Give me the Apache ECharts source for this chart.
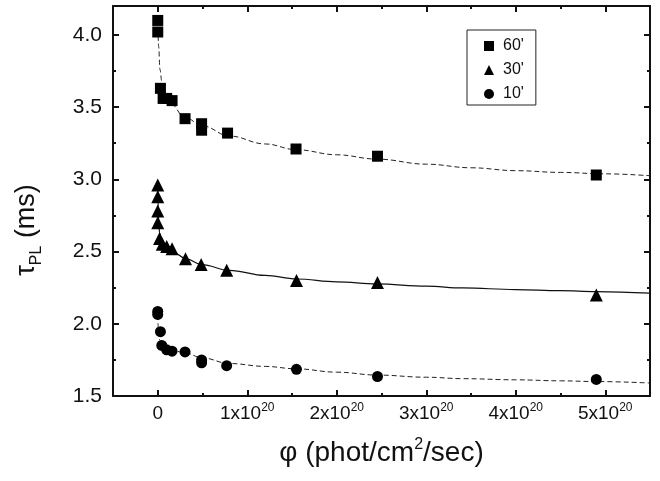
<!DOCTYPE html>
<html><head><meta charset="utf-8">
<script src="https://cdn.jsdelivr.net/npm/echarts@6/dist/echarts.min.js"></script>
<style>html,body{margin:0;padding:0;background:#fff}#c{width:660px;height:481px}</style>
</head><body><div id="c"></div>
<script>
// x values are in units of 1e20 phot/cm^2/sec
const xMajorTicks = [0, 1, 2, 3, 4, 5];
const xMinorTicks = [0.5, 1.5, 2.5, 3.5, 4.5];
const yMajorTicks = [1.5, 2.0, 2.5, 3.0, 3.5, 4.0];
const yMinorTicks = [1.75, 2.25, 2.75, 3.25, 3.75];
const seriesNames = ["60'", "30'", "10'"];

// measured points
const x60 = [0, 0, 0.03, 0.06, 0.10, 0.16, 0.305, 0.49, 0.49, 0.78, 1.545, 2.455, 4.90];
const y60 = [4.10, 4.02, 3.63, 3.56, 3.56, 3.545, 3.42, 3.385, 3.34, 3.32, 3.21, 3.16, 3.03];
const x30 = [0, 0, 0, 0, 0.02, 0.05, 0.10, 0.16, 0.31, 0.485, 0.77, 1.55, 2.455, 4.90];
const y30 = [2.96, 2.88, 2.78, 2.70, 2.59, 2.55, 2.535, 2.52, 2.45, 2.41, 2.37, 2.30, 2.285, 2.20];
const x10 = [0, 0, 0.03, 0.045, 0.10, 0.16, 0.305, 0.49, 0.49, 0.77, 1.55, 2.455, 4.90];
const y10 = [2.085, 2.065, 1.945, 1.85, 1.82, 1.81, 1.805, 1.75, 1.73, 1.71, 1.685, 1.635, 1.615];

// fitted curves
const fx60 = [0.002, 0.01, 0.025, 0.045, 0.08, 0.15, 0.3, 0.5, 0.8, 1.2, 1.55, 2.0, 2.45, 3.0, 3.5, 4.0, 4.5, 5.0, 5.5];
const fy60 = [4.05, 3.92, 3.76, 3.68, 3.60, 3.52, 3.43, 3.37, 3.30, 3.245, 3.205, 3.17, 3.14, 3.105, 3.08, 3.06, 3.048, 3.038, 3.025];
const fx30 = [0.001, 0.005, 0.012, 0.02, 0.04, 0.063, 0.1, 0.17, 0.32, 0.49, 0.8, 1.2, 1.55, 2.0, 2.45, 3.0, 3.41, 4.0, 4.5, 4.9, 5.5];
const fy30 = [2.93, 2.80, 2.70, 2.63, 2.58, 2.56, 2.53, 2.495, 2.45, 2.41, 2.37, 2.335, 2.31, 2.29, 2.276, 2.26, 2.248, 2.237, 2.229, 2.223, 2.212];
const fx10 = [0.001, 0.005, 0.01, 0.02, 0.05, 0.1, 0.2, 0.32, 0.49, 0.8, 1.2, 1.55, 2.0, 2.45, 3.0, 3.41, 4.0, 4.5, 4.9, 5.5];
const fy10 = [2.06, 1.98, 1.93, 1.89, 1.855, 1.83, 1.81, 1.795, 1.765, 1.725, 1.705, 1.688, 1.665, 1.645, 1.63, 1.62, 1.612, 1.605, 1.60, 1.59];

const zip = (a, b) => a.map((v, i) => [v, b[i]]);
const FONT = "'Liberation Sans', Arial, sans-serif";
const INK = '#111';

function xAx(pos, ticks, len, withLine, withLabel) {
  return {
    type: 'value', min: -0.5, max: 5.5, position: pos, gridIndex: 0,
    axisLine: { show: withLine, onZero: false, lineStyle: { color: INK, width: 2 } },
    axisTick: { show: true, inside: true, length: len, customValues: ticks, lineStyle: { color: INK, width: 2 } },
    splitLine: { show: false },
    axisLabel: withLabel ? {
      show: true, customValues: xMajorTicks, margin: 6,
      formatter: v => v === 0 ? '{a|0}' : '{a|' + v + 'x10}{s|20}',
      rich: {
        a: { fontSize: 19, fontFamily: FONT, color: INK, lineHeight: 24 },
        s: { fontSize: 12, fontFamily: FONT, color: INK, verticalAlign: 'top' }
      }
    } : { show: false },
    name: withLabel ? '{t|φ (phot/cm}{s|2}{t|/sec)}' : '',
    nameLocation: 'middle', nameGap: 41,
    nameTextStyle: {
      rich: {
        t: { fontSize: 28, fontFamily: FONT, color: INK, lineHeight: 32 },
        s: { fontSize: 16, fontFamily: FONT, color: INK, verticalAlign: 'top' }
      }
    }
  };
}
function yAx(pos, ticks, len, withLine, withLabel) {
  return {
    type: 'value', min: 1.5, max: 4.2, position: pos, gridIndex: 0,
    axisLine: { show: withLine, onZero: false, lineStyle: { color: INK, width: 2 } },
    axisTick: { show: true, inside: true, length: len, customValues: ticks, lineStyle: { color: INK, width: 2 } },
    splitLine: { show: false },
    axisLabel: withLabel ? {
      show: true, customValues: yMajorTicks, margin: 11,
      fontSize: 21, fontFamily: FONT, color: INK,
      formatter: v => v.toFixed(1)
    } : { show: false },
    name: withLabel ? '{t|τ}{s|PL}{t| (ms)}' : '',
    nameLocation: 'middle', nameRotate: 90, nameGap: 68,
    nameTextStyle: {
      padding: [0, 58, 0, 0],
      rich: {
        t: { fontSize: 27, fontFamily: FONT, color: INK, lineHeight: 36 },
        s: { fontSize: 16, fontFamily: FONT, color: INK, verticalAlign: 'bottom' }
      }
    }
  };
}

const chart = echarts.init(document.getElementById('c'), null, { renderer: 'canvas' });
chart.setOption({
  animation: false,
  backgroundColor: '#fff',
  grid: { left: 113, right: 10, top: 6, bottom: 85, containLabel: false },
  xAxis: [
    xAx('bottom', xMajorTicks, 6, true, true),
    xAx('bottom', xMinorTicks, 3, false, false),
    xAx('top', xMajorTicks, 6, true, false),
    xAx('top', xMinorTicks, 3, false, false)
  ],
  yAxis: [
    yAx('left', yMajorTicks, 6, true, true),
    yAx('left', yMinorTicks, 3, false, false),
    yAx('right', yMajorTicks, 6, true, false),
    yAx('right', yMinorTicks, 3, false, false)
  ],
  legend: {
    orient: 'vertical', left: 467, top: 30,
    padding: [8, 12, 3, 17], itemGap: 8, itemWidth: 10, itemHeight: 10,
    borderColor: '#222', borderWidth: 1,
    textStyle: { fontSize: 16, fontFamily: FONT, color: INK, padding: [0, 0, 0, 4] },
    data: [
      { name: seriesNames[0], icon: 'rect' },
      { name: seriesNames[1], icon: 'triangle' },
      { name: seriesNames[2], icon: 'circle' }
    ],
    selectedMode: false
  },
  series: [
    { type: 'line', data: zip(fx60, fy60), showSymbol: false, smooth: 0.4, smoothMonotone: 'x', z: 1,
      lineStyle: { color: '#222', width: 1, type: [5, 3] }, silent: true },
    { type: 'line', data: zip(fx30, fy30), showSymbol: false, smooth: 0.4, smoothMonotone: 'x', z: 1,
      lineStyle: { color: '#111', width: 1.2, type: 'solid' }, silent: true },
    { type: 'line', data: zip(fx10, fy10), showSymbol: false, smooth: 0.4, smoothMonotone: 'x', z: 1,
      lineStyle: { color: '#222', width: 1, type: [5, 3] }, silent: true },
    { name: seriesNames[0], type: 'scatter', data: zip(x60, y60), symbol: 'rect', symbolSize: 11, z: 3,
      itemStyle: { color: '#000', opacity: 1 } },
    { name: seriesNames[1], type: 'scatter', data: zip(x30, y30), symbol: 'triangle', symbolSize: 13, z: 3,
      itemStyle: { color: '#000', opacity: 1 } },
    { name: seriesNames[2], type: 'scatter', data: zip(x10, y10), symbol: 'circle', symbolSize: 11, z: 3,
      itemStyle: { color: '#000', opacity: 1 } }
  ]
});
</script>
</body></html>
